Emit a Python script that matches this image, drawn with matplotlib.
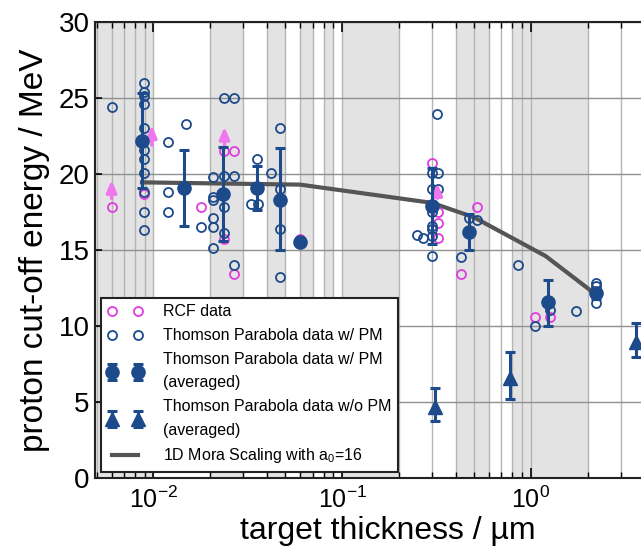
import matplotlib
matplotlib.use("Agg")
import matplotlib.pyplot as plt
import numpy as np

plt.rcParams['font.family'] = ['Liberation Sans', 'DejaVu Sans']
plt.rcParams['mathtext.fontset'] = 'custom'
plt.rcParams['mathtext.rm'] = 'Liberation Sans'
plt.rcParams['mathtext.it'] = 'Liberation Sans:italic'
plt.rcParams['mathtext.default'] = 'regular'

# ---------------- data ----------------
rcf_x = [0.006, 0.0089, 0.0179, 0.0238, 0.0268, 0.0238, 0.0268, 0.06,
         0.3, 0.322, 0.322, 0.322, 0.52, 0.428, 1.056, 1.27]
rcf_y = [17.85, 18.7, 17.8, 21.5, 21.5, 15.7, 13.4, 15.7,
         20.7, 17.5, 16.8, 15.8, 17.85, 13.4, 10.6, 10.6]

tp_x = [0.006,
        0.0089, 0.0089, 0.0089, 0.0089, 0.0089, 0.0089, 0.0089, 0.0089, 0.0089, 0.0089, 0.0089,
        0.0119, 0.0119, 0.0119,
        0.0149, 0.0179,
        0.0208, 0.0208, 0.0208, 0.0208, 0.0208, 0.0208,
        0.0238, 0.0238, 0.0238, 0.0238,
        0.0268, 0.0268, 0.0268,
        0.0354, 0.0329, 0.036, 0.0418,
        0.047, 0.047, 0.047, 0.047,
        0.25, 0.27,
        0.3, 0.3, 0.3, 0.3, 0.3, 0.3, 0.3,
        0.318, 0.322, 0.322,
        0.428, 0.468, 0.52, 0.859, 1.056, 1.27, 1.74,
        2.215, 2.215, 2.215]
tp_y = [24.4,
        26.0, 25.4, 25.1, 24.6, 23.0, 21.6, 21.0, 20.05, 18.8, 17.5, 16.3,
        22.1, 18.8, 17.5,
        23.3, 16.5,
        19.8, 18.5, 18.3, 17.1, 16.5, 15.1,
        25.0, 19.9, 17.8, 16.1,
        25.0, 19.9, 14.0,
        21.0, 18.0, 18.0, 20.05,
        23.05, 19.0, 16.4, 13.2,
        16.0, 15.8,
        20.05, 19.0, 17.5, 16.6, 16.4, 15.9, 14.6,
        23.95, 20.05, 19.0,
        14.55, 17.1, 17.0, 14.0, 10.0, 11.05, 11.0,
        12.8, 12.6, 11.5]

avg_x = [0.0087, 0.0146, 0.0235, 0.0354, 0.047, 0.06, 0.3, 0.468, 1.233, 2.215]
avg_y = [22.2, 19.06, 18.7, 19.06, 18.3, 15.55, 17.9, 16.2, 11.55, 12.15]
avg_lo = [19.06, 16.6, 15.6, 17.6, 15.0, 15.55, 15.4, 15.0, 10.0, 11.8]
avg_hi = [25.3, 21.6, 21.8, 20.5, 21.7, 15.55, 20.4, 17.4, 13.0, 12.5]

wo_x = [0.309, 0.779, 3.62]
wo_y = [4.7, 6.55, 8.97]
wo_lo = [3.75, 5.2, 7.95]
wo_hi = [5.9, 8.3, 10.2]

mora_x = [0.0087, 0.06, 0.3, 0.5, 1.2, 2.2]
mora_y = [19.45, 19.3, 18.1, 17.15, 14.6, 12.1]

arrow_x = [0.006, 0.0098, 0.0238, 0.32]
arrow_y0 = [18.4, 21.9, 21.9, 18.4]
arrow_y1 = [19.6, 23.2, 23.1, 19.4]

band_lo = [0.001, 0.02, 0.04, 0.06, 0.08, 0.1, 0.4, 0.8]
band_hi = [0.01, 0.03, 0.05, 0.07, 0.09, 0.2, 0.6, 2.0]

# ---------------- figure ----------------
W, H = 641, 547
fig = plt.figure(figsize=(W / 100, H / 100), dpi=100)
x_left_px, x_right_px = 95, 681.5
y_top_px, y_bot_px = 22, 478
ax = fig.add_axes([x_left_px / W, (H - y_bot_px) / H,
                   (x_right_px - x_left_px) / W, (y_bot_px - y_top_px) / H])
ax.set_xscale('log')
ax.set_xlim(0.0049, 6.3)
ax.set_ylim(0, 30)

blue = '#1c4a8a'
mag = '#e03ce0'
arrow_col = '#ee77ee'

for lo, hi in zip(band_lo, band_hi):
    ax.axvspan(lo, hi, color='#e3e3e3', lw=0, zorder=0)

ax.grid(True, which='both', axis='x', color='#b4b4b4', lw=1.0, zorder=1)
ax.grid(True, which='major', axis='y', color='#909090', lw=1.0, zorder=1)
ax.set_axisbelow(True)

ax.plot(mora_x, mora_y, color='#555555', lw=3, zorder=3,
        label='1D Mora Scaling with a$_0$=16')

ax.plot(rcf_x, rcf_y, ls='none', marker='o', ms=6.5, mfc='none', mec=mag, mew=1.3,
        zorder=4, label='RCF data')
ax.plot(tp_x, tp_y, ls='none', marker='o', ms=6.5, mfc='none', mec=blue, mew=1.3,
        zorder=4, label='Thomson Parabola data w/ PM')

avg_err = [np.array(avg_y) - np.array(avg_lo), np.array(avg_hi) - np.array(avg_y)]
ax.errorbar(avg_x, avg_y, yerr=avg_err, fmt='o', ms=9.5, color=blue, elinewidth=2.2,
            capsize=3.5, capthick=2.2, zorder=5,
            label='Thomson Parabola data w/ PM\n(averaged)')
wo_err = [np.array(wo_y) - np.array(wo_lo), np.array(wo_hi) - np.array(wo_y)]
ax.errorbar(wo_x, wo_y, yerr=wo_err, fmt='^', ms=9.5, color=blue, elinewidth=2.2,
            capsize=3.5, capthick=2.2, zorder=5,
            label='Thomson Parabola data w/o PM\n(averaged)')

for xa, y0, y1 in zip(arrow_x, arrow_y0, arrow_y1):
    ax.annotate('', xy=(xa, y1), xytext=(xa, y0),
                arrowprops=dict(arrowstyle='-|>,head_width=0.3,head_length=0.7',
                                color=arrow_col, lw=2.5, shrinkA=0, shrinkB=0),
                zorder=4)

for s in ax.spines.values():
    s.set_linewidth(1.5)
    s.set_color('#222222')

ax.tick_params(axis='both', which='both', direction='in', top=True, right=False)
ax.tick_params(axis='x', which='major', length=7, width=1.2, labelsize=18, pad=6)
ax.tick_params(axis='x', which='minor', length=4, width=1.0)
ax.tick_params(axis='y', which='major', length=5, width=1.2, labelsize=20, pad=4)
ax.set_yticks([0, 5, 10, 15, 20, 25, 30])

ax.set_xlabel('target thickness / µm', fontsize=23, labelpad=2)
ax.set_ylabel('proton cut-off energy / MeV', fontsize=24, labelpad=6)

handles, labels = ax.get_legend_handles_labels()
order = [1, 2, 3, 4, 0]
leg = ax.legend([handles[i] for i in order], [labels[i] for i in order],
                loc='lower left', bbox_to_anchor=(101 / W, (H - 471.7) / H),
                bbox_transform=fig.transFigure, borderaxespad=0,
                fontsize=11.5, numpoints=2, handlelength=2.2, handletextpad=1.3,
                labelspacing=0.55, frameon=True, fancybox=False, framealpha=1,
                edgecolor='#222222', borderpad=0.4)
leg.get_frame().set_linewidth(1.5)
leg.set_zorder(10)
for t in leg.get_texts():
    t.set_linespacing(1.7)

fig.savefig('out.png', dpi=100)
